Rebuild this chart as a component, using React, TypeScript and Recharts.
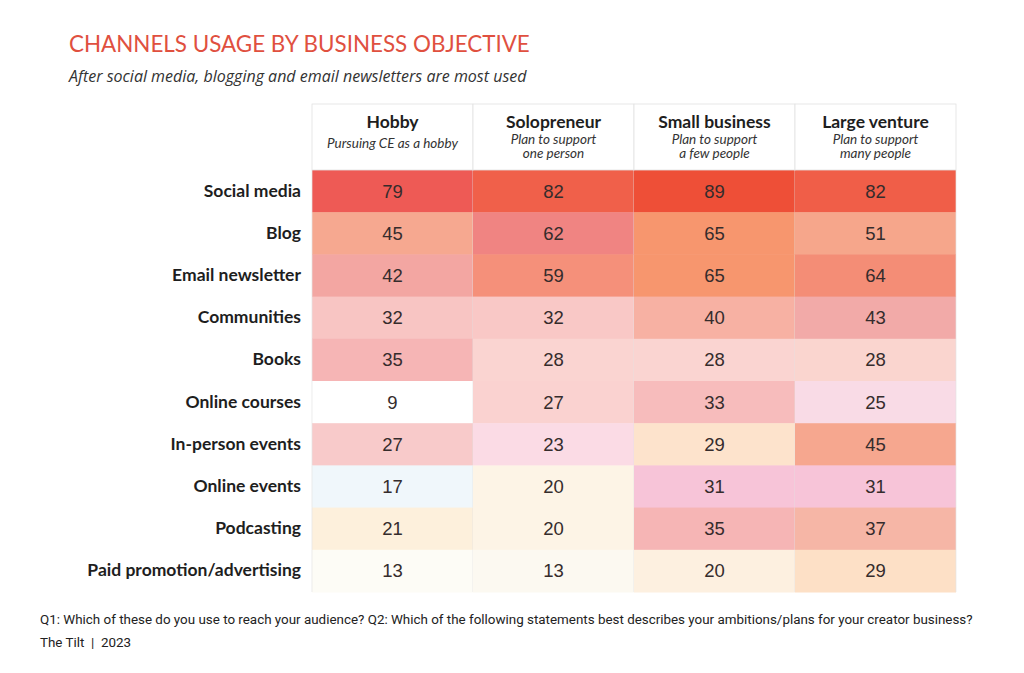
import React from "react";
import { ScatterChart, Scatter, XAxis, YAxis } from "recharts";

const columns = ["Hobby", "Solopreneur", "Small business", "Large venture"];
const columnNotes = [
  ["Pursuing CE as a hobby"],
  ["Plan to support", "one person"],
  ["Plan to support", "a few people"],
  ["Plan to support", "many people"],
];
const channels = [
  "Social media",
  "Blog",
  "Email newsletter",
  "Communities",
  "Books",
  "Online courses",
  "In-person events",
  "Online events",
  "Podcasting",
  "Paid promotion/advertising",
];
const hobby = [79, 45, 42, 32, 35, 9, 27, 17, 21, 13];
const solopreneur = [82, 62, 59, 32, 28, 27, 23, 20, 20, 13];
const smallBusiness = [89, 65, 65, 40, 28, 33, 29, 31, 35, 20];
const largeVenture = [82, 51, 64, 43, 28, 25, 45, 31, 37, 29];

// cell fills, one row per channel (hand-picked in the original)
const cellColors = [
  ["#ee5a55", "#f0604a", "#ee4f37", "#f05e48"],
  ["#f6a890", "#f08482", "#f7966e", "#f6a68b"],
  ["#f3a6a2", "#f5907a", "#f7966e", "#f48d76"],
  ["#f8c5c3", "#f9c8c6", "#f7b1a3", "#f2aaa8"],
  ["#f6b5b5", "#fad4d1", "#fad4d1", "#fad5cf"],
  ["#ffffff", "#fad2d0", "#f7bcbc", "#f9dbe6"],
  ["#f8caca", "#fbdbe5", "#fde3cc", "#f6a78f"],
  ["#f0f7fb", "#fdf4e6", "#f7c4d8", "#f7c4d8"],
  ["#fdf0dc", "#fdf4e6", "#f6b5b5", "#f6b6a6"],
  ["#fdfcf6", "#fcf9f1", "#fdf0e0", "#fde0c6"],
];

const W = 1024;
const H = 673;
const margin = { top: 104, right: 68, bottom: 81, left: 62 };
const yAxisWidth = 250;
const headerHeight = 66;
const plotW = W - margin.left - margin.right - yAxisWidth;
const plotH = H - margin.top - margin.bottom - headerHeight;
const cellW = plotW / columns.length;
const cellH = plotH / channels.length;

const series = [hobby, solopreneur, smallBusiness, largeVenture];
const cells = series.flatMap((vals, ci) =>
  vals.map((v, ri) => ({
    x: ci + 0.5,
    y: ri + 0.5,
    value: v,
    fill: cellColors[ri][ci],
    col: ci,
  }))
);

const HeatCell = (props: any) => {
  const { cx, cy, payload } = props;
  const x0 = cx - cellW / 2;
  const y0 = cy - cellH / 2;
  return (
    <g>
      <rect x={x0} y={y0} width={cellW} height={cellH + 0.5} fill={payload.fill} />
      <line x1={x0 + cellW} x2={x0 + cellW} y1={y0} y2={y0 + cellH} stroke="#e4e4e4" strokeWidth={0.7} />
      {payload.col === 0 && (
        <line x1={x0} x2={x0} y1={y0} y2={y0 + cellH} stroke="#e4e4e4" strokeWidth={0.7} />
      )}
      <text
        x={cx}
        y={cy + 6.5}
        textAnchor="middle"
        fontFamily="'Liberation Sans', Arial, sans-serif"
        fontSize={18.5}
        fill="#352c2c"
      >
        {payload.value}
      </text>
    </g>
  );
};

const HeaderTick = (props: any) => {
  const { x, index } = props;
  const top = margin.top;
  const notes = columnNotes[index];
  return (
    <g>
      <rect
        x={x - cellW / 2}
        y={top}
        width={cellW}
        height={headerHeight}
        fill="#fff"
        stroke="#e2e2e2"
        strokeWidth={0.8}
      />
      <text
        x={x}
        y={top + 24}
        textAnchor="middle"
        fontFamily="Lato, sans-serif"
        fontWeight={700}
        fontSize={17.5}
        fill="#1e1e1e"
      >
        {columns[index]}
      </text>
      {notes.map((n, i) => (
        <text
          key={i}
          x={x}
          y={notes.length === 1 ? top + 44 : top + 40 + i * 14}
          textAnchor="middle"
          fontFamily="Lato, sans-serif"
          fontStyle="italic"
          fontSize={13.5}
          fill="#333"
        >
          {n}
        </text>
      ))}
    </g>
  );
};

const RowTick = (props: any) => {
  const { y, index } = props;
  return (
    <text
      x={margin.left + yAxisWidth - 11}
      y={y + 5.5}
      textAnchor="end"
      fontFamily="Lato, sans-serif"
      fontWeight={700}
      fontSize={17.5}
      fill="#1e1e1e"
    >
      {channels[index]}
    </text>
  );
};

export default function App() {
  return (
    <div style={{ position: "absolute", left: 0, top: 0, width: W, height: H, background: "#fff" }}>
      <div
        style={{
          position: "absolute",
          left: 69,
          top: 31,
          fontFamily: "Lato, sans-serif",
          fontSize: 22.4,
          color: "#e0503f",
          lineHeight: "26px",
          whiteSpace: "nowrap",
        }}
      >
        CHANNELS USAGE BY BUSINESS OBJECTIVE
      </div>
      <div
        style={{
          position: "absolute",
          left: 69,
          top: 65,
          fontFamily: "'Open Sans', sans-serif",
          fontStyle: "italic",
          fontSize: 16,
          color: "#333",
          lineHeight: "22px",
          whiteSpace: "nowrap",
        }}
      >
        After social media, blogging and email newsletters are most used
      </div>
      <ScatterChart width={W} height={H} margin={margin}>
        <XAxis
          type="number"
          dataKey="x"
          xAxisId={0}
          orientation="top"
          domain={[0, columns.length]}
          ticks={columns.map((_, i) => i + 0.5)}
          height={headerHeight}
          axisLine={false}
          tickLine={false}
          tick={<HeaderTick />}
          interval={0}
        />
        <YAxis
          type="number"
          dataKey="y"
          yAxisId={0}
          reversed
          domain={[0, channels.length]}
          ticks={channels.map((_, i) => i + 0.5)}
          width={yAxisWidth}
          axisLine={false}
          tickLine={false}
          tick={<RowTick />}
          interval={0}
        />
        <Scatter data={cells} shape={<HeatCell />} isAnimationActive={false} />
      </ScatterChart>
      <div
        style={{
          position: "absolute",
          left: 40,
          top: 611,
          fontFamily: "Roboto, sans-serif",
          fontSize: 13.4,
          color: "#222",
          whiteSpace: "nowrap",
          lineHeight: "18px",
        }}
      >
        Q1: Which of these do you use to reach your audience? Q2: Which of the following statements best describes your
        ambitions/plans for your creator business?
      </div>
      <div
        style={{
          position: "absolute",
          left: 40,
          top: 634,
          fontFamily: "Roboto, sans-serif",
          fontSize: 13.4,
          color: "#222",
          whiteSpace: "nowrap",
          lineHeight: "18px",
        }}
      >
        The Tilt &nbsp;|&nbsp; 2023
      </div>
    </div>
  );
}
